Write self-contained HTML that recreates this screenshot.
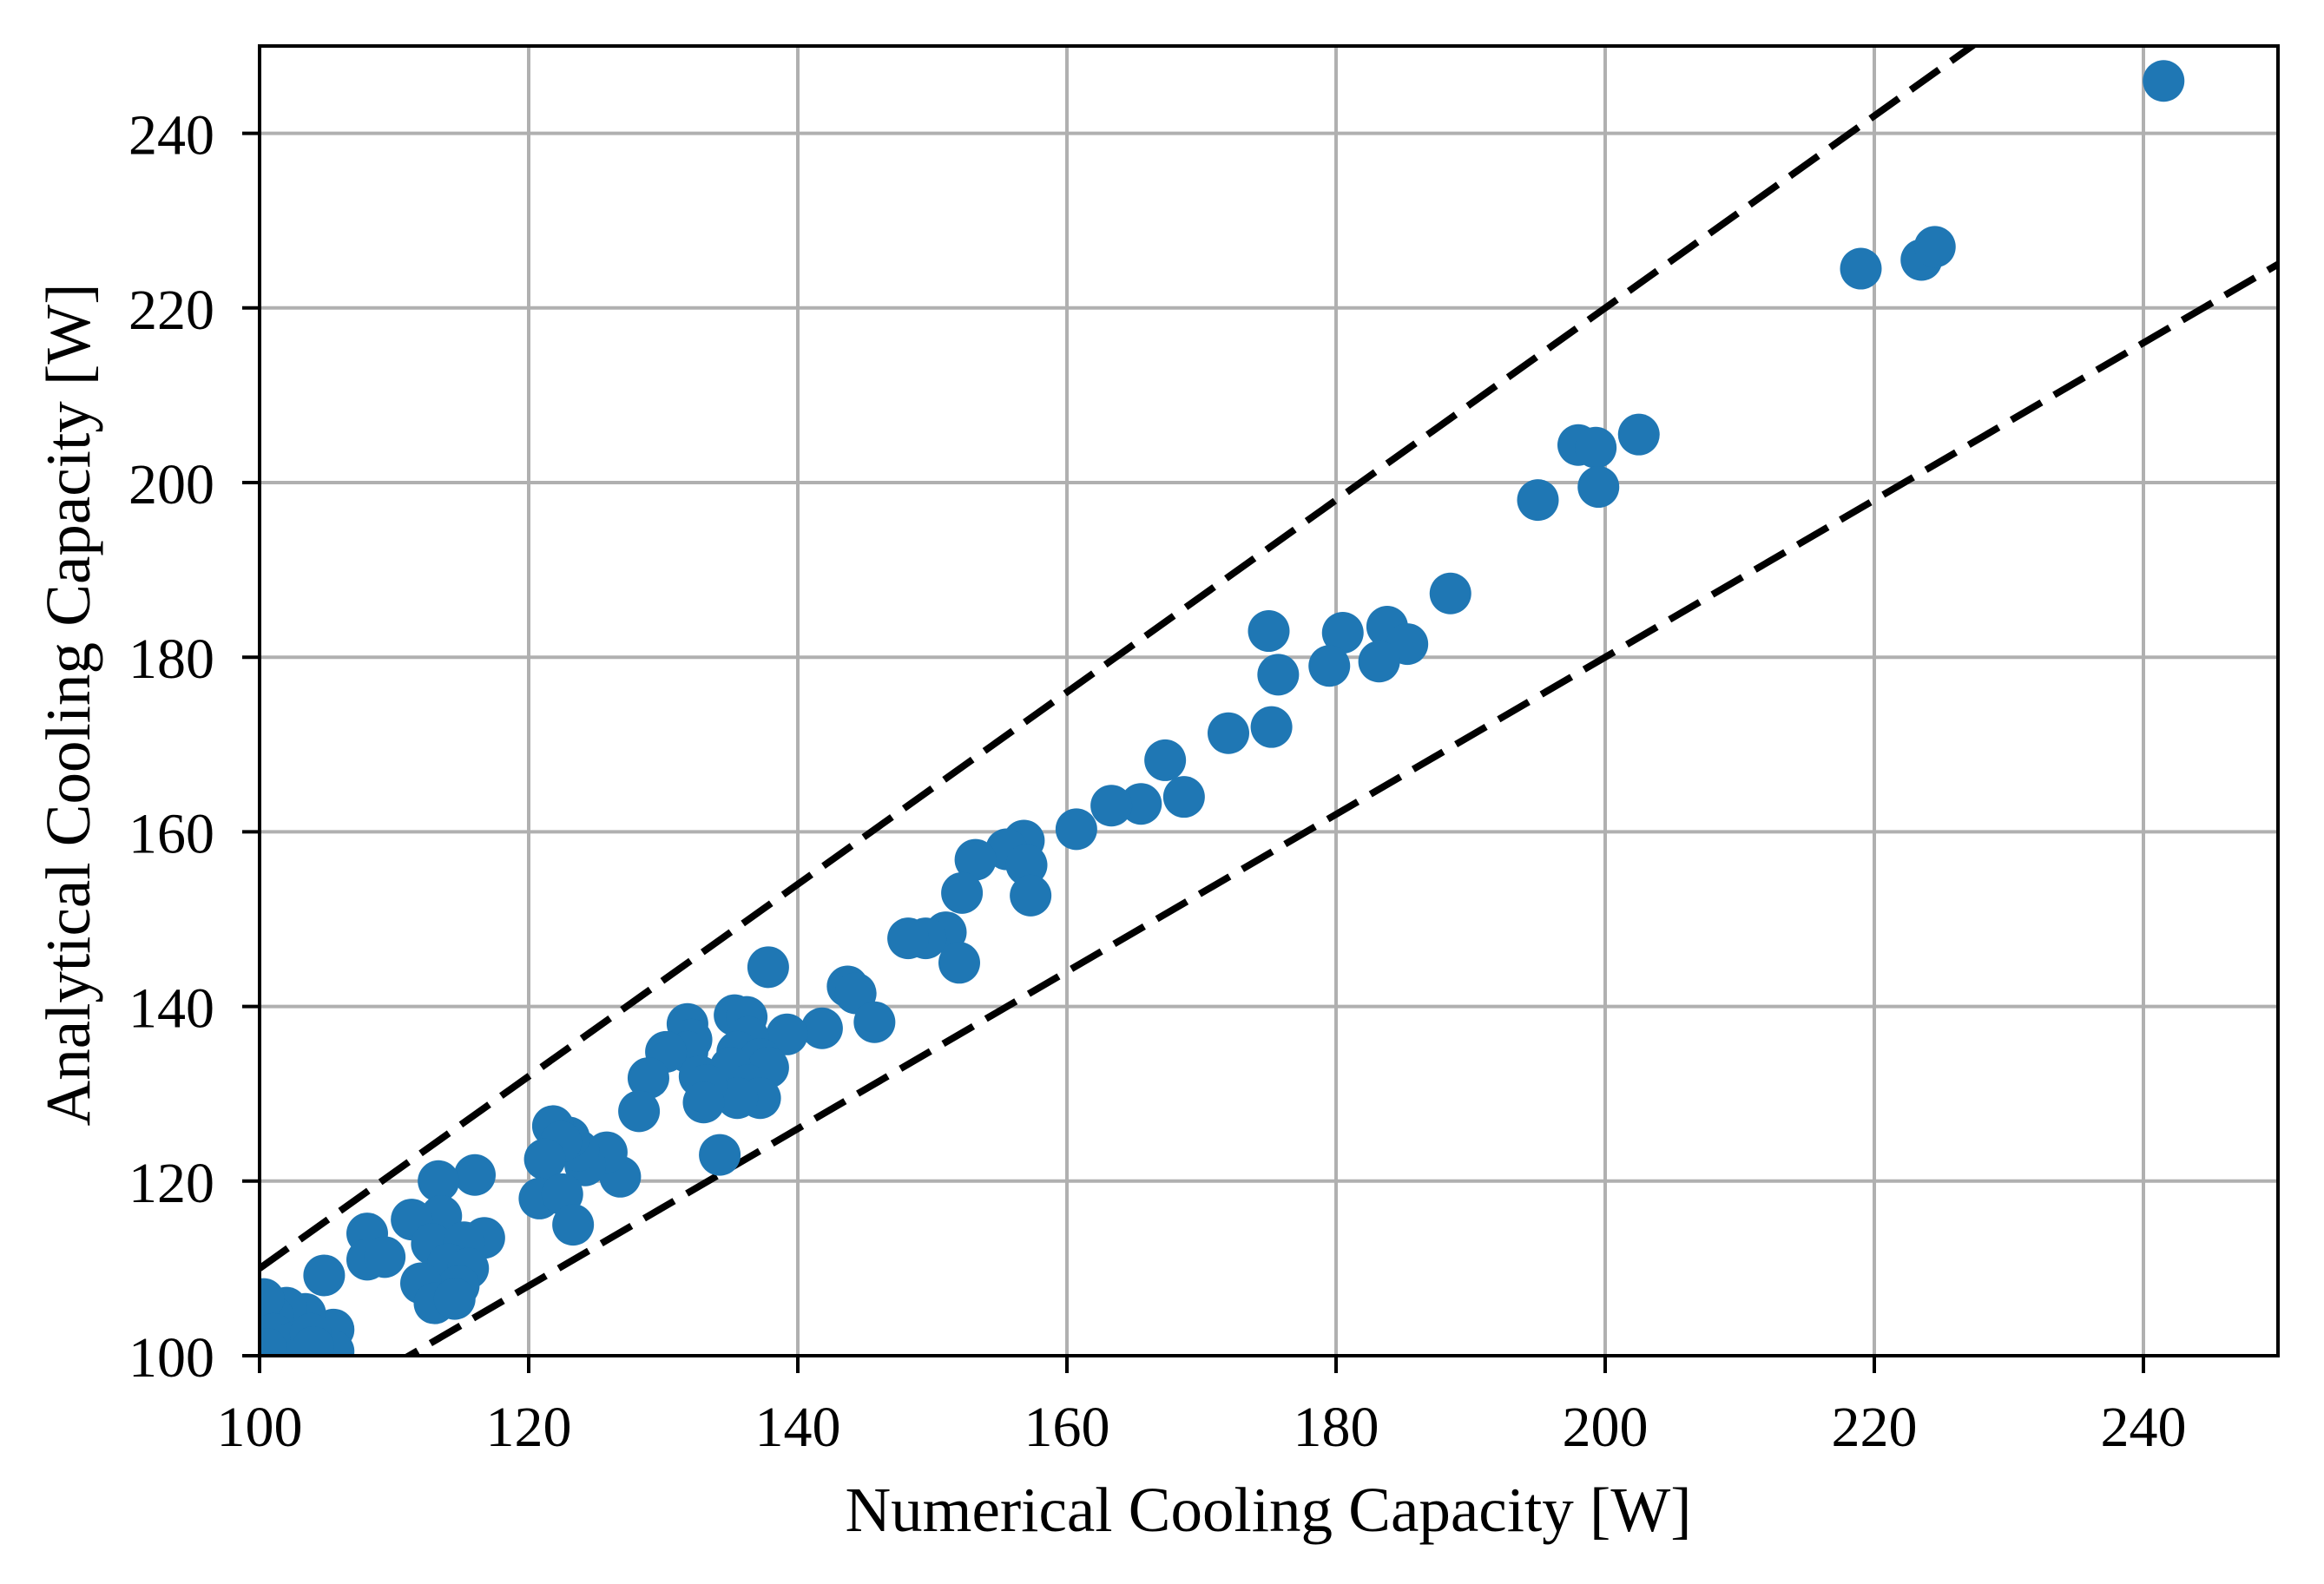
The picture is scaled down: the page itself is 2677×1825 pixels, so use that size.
<!DOCTYPE html>
<html><head><meta charset="utf-8"><style>
html,body{margin:0;padding:0;background:#fff;}
svg{display:block;}
text{font-family:"Liberation Serif","DejaVu Serif",serif;fill:#000;}
</style></head><body>
<svg id="chart" width="2677" height="1825" viewBox="0 0 2677 1825" xmlns="http://www.w3.org/2000/svg">
<rect width="2677" height="1825" fill="#fff"/>
<defs><clipPath id="plotclip"><rect x="299" y="53" width="2325" height="1509"/></clipPath></defs>
<g id="grid"></g>
<g id="marks" clip-path="url(#plotclip)"></g>
<rect x="299" y="53" width="2325" height="1509" fill="none" stroke="#000" stroke-width="4"/>
<g id="ticks"></g>
<text x="1461" y="1764" font-size="73" text-anchor="middle">Numerical Cooling Capacity [W]</text>
<text x="0" y="0" font-size="73" text-anchor="middle" transform="translate(103,812) rotate(-90)">Analytical Cooling Capacity [W]</text>
</svg>
<script>
const xTicks = [100,120,140,160,180,200,220,240];
const yTicks = [100,120,140,160,180,200,220,240];
const xDomain = [100,250];
const yDomain = [100,250];
const bandFactors = [1.1, 0.9];
const numerical = [241.5,219,223.5,224.5,202.5,198,199.3,199.5,195,188.5,175,180.5,183.8,185.3,183.2,179.5,175.7,175.2,172,167.3,168.7,165.5,163.3,160.7,156.8,155.5,153.2,157,157.3,152.2,151,149.5,148.2,152,143.7,144.3,145.7,141.8,139.2,137.8,135.3,136.2,136.3,135.5,137.2,137.8,135,136.3,137.2,135.5,134.2,131.8,132.1,131.8,130.2,132.7,133.2,133,128.9,128.2,126.8,125.8,124.2,123.7,123,121.8,122.4,121.2,120.8,122.5,123.3,116,116.7,113.3,113.5,111.3,112.8,115.2,114,115.5,114.8,112,113,114.5,108,108,109.3,104.8,105.5,105.5,103.4,102,101,100.3,101,102.5,103.8,104,100.5];
const analytical = [246,224.5,225.5,227,205.5,204.3,204,199.5,198,187.3,183,182.8,183.5,181.5,179.5,179,178,172,171.3,168.2,164,163.2,163,160.3,159,158,156.8,156.2,152.7,153,148.5,147.8,147.8,145,142.3,141.5,138.2,137.5,136.8,144.5,139,138.8,136.5,134.8,134,133,133,131,129.5,129.5,123,138,136.2,134.8,134.8,132,131,129,131.8,128,120.5,123.3,121.8,123.5,125,126.3,124.5,122.5,118,118.5,115,120.7,113.5,120,116,115.6,112.8,113,110.5,110,108,108.3,106,106.5,114,111,111.3,109.2,103,100.5,104.8,105.5,104.5,106.5,102.5,101.5,102.5,101,100.8];

const L=299,R=2624,T=53,B=1562;
const sx=v=>L+(v-xDomain[0])/(xDomain[1]-xDomain[0])*(R-L);
const sy=v=>B-(v-yDomain[0])/(yDomain[1]-yDomain[0])*(B-T);
const NS='http://www.w3.org/2000/svg';
function mk(tag,attrs,parent){const e=document.createElementNS(NS,tag);for(const k in attrs)e.setAttribute(k,attrs[k]);parent.appendChild(e);return e;}
const grid=document.getElementById('grid'),marks=document.getElementById('marks'),ticks=document.getElementById('ticks');
xTicks.forEach(t=>{
  const g=mk('line',{x1:sx(t),x2:sx(t),y1:T,y2:B,stroke:'#b0b0b0','stroke-width':4},grid);
  
  
  const tk=mk('line',{x1:sx(t),x2:sx(t),y1:B,y2:B+20,stroke:'#000','stroke-width':4},ticks);
  
  
  const lb=mk('text',{x:sx(t),y:1666,'font-size':66,'text-anchor':'middle'},ticks);
  lb.textContent=t;
  
  
});
yTicks.forEach(t=>{
  const g=mk('line',{x1:L,x2:R,y1:sy(t),y2:sy(t),stroke:'#b0b0b0','stroke-width':4},grid);
  
  
  const tk=mk('line',{x1:L-20,x2:L,y1:sy(t),y2:sy(t),stroke:'#000','stroke-width':4},ticks);
  
  
  const lb=mk('text',{x:247,y:sy(t)+24,'font-size':66,'text-anchor':'end'},ticks);
  lb.textContent=t;
  
  
});
bandFactors.forEach(f=>{
  const ln=mk('line',{x1:sx(xDomain[0]),y1:sy(xDomain[0]*f),x2:sx(xDomain[1]),y2:sy(xDomain[1]*f),stroke:'#000','stroke-width':8,'stroke-dasharray':'40 17'},marks);
  
  
});
numerical.forEach((x,i)=>{
  const c=mk('circle',{cx:sx(x),cy:sy(analytical[i]),r:24,fill:'#1f77b4'},marks);
  
  
});
</script>
</body></html>
